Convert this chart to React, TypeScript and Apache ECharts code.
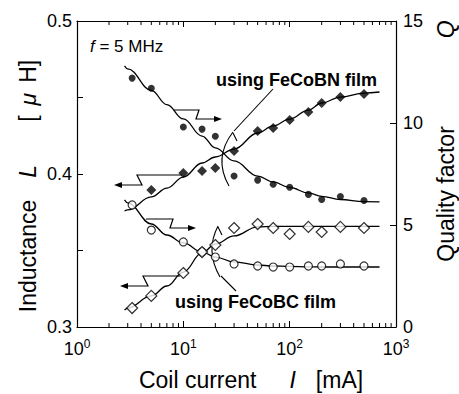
import React, { useEffect, useRef } from "react";
import * as echarts from "echarts";

// ---- data ----
const BN_Q_X = [3.3, 5, 10, 15, 20, 30, 50, 70, 100, 150, 200, 300, 500];
const BN_Q = [12.2, 11.7, 9.8, 9.7, 9.35, 7.4, 7.2, 7.0, 6.85, 6.5, 6.25, 6.4, 6.2];
const BN_L_X = [5, 10, 15, 20, 30, 50, 70, 100, 150, 200, 300, 500];
const BN_L = [0.3895, 0.4007, 0.402, 0.4039, 0.415, 0.4281, 0.4301, 0.4353, 0.4405, 0.4464, 0.4503, 0.4523];
const BC_X = [3.3, 5, 10, 15, 20, 30, 50, 70, 100, 150, 200, 300, 500];
const BC_Q = [5.98, 4.75, 4.17, 3.68, 3.43, 3.09, 2.99, 2.94, 2.94, 2.99, 2.99, 3.09, 2.99];
const BC_L = [0.3124, 0.3203, 0.3353, 0.349, 0.3536, 0.3647, 0.3673, 0.3647, 0.3608, 0.3654, 0.3621, 0.3654, 0.3647];

const FIT_X = [2.8, 3, 5, 7, 10, 15, 20, 30, 50, 70, 100, 150, 200, 300, 500, 700];
const BN_Q_FIT = [12.8, 12.65, 11.6, 10.9, 10.2, 9.36, 8.78, 8.14, 7.4, 7.11, 6.84, 6.57, 6.4, 6.25, 6.15, 6.13];
const BN_L_FIT = [0.3758, 0.3765, 0.385, 0.3908, 0.398, 0.4072, 0.4111, 0.4163, 0.4268, 0.4314, 0.4359, 0.4418, 0.4464, 0.4503, 0.4529, 0.4536];
const BC_Q_FIT = [6.23, 6.08, 5.05, 4.51, 4.12, 3.68, 3.43, 3.19, 3.04, 2.99, 2.97, 2.95, 2.94, 2.94, 2.94, 2.94];
const BC_L_FIT = [0.3111, 0.3124, 0.3203, 0.3268, 0.3359, 0.3484, 0.3542, 0.3595, 0.3655, 0.3658, 0.3658, 0.3658, 0.3658, 0.3658, 0.3658, 0.3658];

const MINOR_X = [2, 3, 4, 5, 6, 7, 8, 9, 20, 30, 40, 50, 60, 70, 80, 90, 200, 300, 400, 500, 600, 700, 800, 900];

const FONT = "Liberation Sans";
const pairs = (xs: number[], ys: number[]) => xs.map((x, i) => [x, ys[i]]);

export default function App() {
  const ref = useRef<HTMLDivElement>(null);
  useEffect(() => {
    if (!ref.current) return;
    const chart = echarts.init(ref.current, undefined, { renderer: "svg" });
    const black = "#000";
    const lineStyle = { color: black, width: 1.3 };
    const T = 23;
    const fitSeries = (name: string, ys: number[], yAxisIndex: number) => ({
      name,
      type: "line",
      yAxisIndex,
      data: pairs(FIT_X, ys),
      smooth: 0.4,
      smoothMonotone: "x",
      showSymbol: false,
      symbol: "none",
      lineStyle,
      z: 2,
    });
    const arrow = (pts: number[][], dir: number) => {
      const end = pts[pts.length - 1];
      const tip = [end[0] + dir * 6, end[1]];
      return [
        { type: "polyline", shape: { points: pts }, style: { stroke: black, lineWidth: 1.2, fill: "none" } },
        {
          type: "polygon",
          shape: { points: [tip, [end[0] - dir * 2, end[1] - 3], [end[0] - dir * 2, end[1] + 3]] },
          style: { fill: black },
        },
      ];
    };
    const base = { fontSize: T, fontFamily: FONT, fill: black };
    const ital = { fontSize: T, fontFamily: FONT, fill: black, fontStyle: "italic" };
    const option: any = {
      animation: false,
      textStyle: { fontFamily: FONT, color: black },
      grid: { left: 77, right: 63, top: 21, bottom: 67 },
      xAxis: [
        {
          type: "log",
          logBase: 10,
          min: 1,
          max: 1000,
          position: "bottom",
          axisLine: { lineStyle: { color: black, width: 1.2 } },
          axisTick: { inside: true, length: 6, lineStyle: { color: black } },
          splitLine: { show: false },
          axisLabel: {
            margin: 11,
            formatter: (v: number) => `{b|10}{s|${Math.round(Math.log10(v))}}`,
            rich: {
              b: { fontSize: 18, fontFamily: FONT, color: black, lineHeight: 22 },
              s: { fontSize: 12, fontFamily: FONT, color: black, lineHeight: 12, verticalAlign: "top" },
            },
          },
        },
        {
          type: "log",
          logBase: 10,
          min: 1,
          max: 1000,
          position: "top",
          axisLine: { lineStyle: { color: black, width: 1.2 } },
          axisTick: { inside: true, length: 6, lineStyle: { color: black } },
          axisLabel: { show: false },
          splitLine: { show: false },
        },
      ],
      yAxis: [
        {
          type: "value",
          min: 0.3,
          max: 0.5,
          interval: 0.05,
          position: "left",
          axisLine: { show: true, lineStyle: { color: black, width: 1.2 } },
          axisTick: { show: true, inside: true, length: 6, lineStyle: { color: black } },
          splitLine: { show: false },
          axisLabel: {
            margin: 5,
            fontSize: 18,
            color: black,
            fontFamily: FONT,
            formatter: (v: number) => (Math.abs(Math.round(v * 10) - v * 10) < 1e-6 ? v.toFixed(1) : ""),
          },
        },
        {
          type: "value",
          min: 0,
          max: 15,
          interval: 5,
          position: "right",
          axisLine: { show: true, lineStyle: { color: black, width: 1.2 } },
          axisTick: { show: true, inside: true, length: 6, lineStyle: { color: black } },
          splitLine: { show: false },
          axisLabel: { margin: 7, fontSize: 18, color: black, fontFamily: FONT },
        },
      ],
      series: [
        fitSeries("FeCoBN Q fit", BN_Q_FIT, 1),
        fitSeries("FeCoBN L fit", BN_L_FIT, 0),
        fitSeries("FeCoBC Q fit", BC_Q_FIT, 1),
        fitSeries("FeCoBC L fit", BC_L_FIT, 0),
        {
          name: "FeCoBN Q",
          type: "scatter",
          yAxisIndex: 1,
          data: pairs(BN_Q_X, BN_Q),
          symbol: "circle",
          symbolSize: 7,
          itemStyle: { color: black },
          z: 5,
        },
        {
          name: "FeCoBN L",
          type: "scatter",
          yAxisIndex: 0,
          data: pairs(BN_L_X, BN_L),
          symbol: "diamond",
          symbolSize: 10,
          itemStyle: { color: black },
          z: 5,
        },
        {
          name: "FeCoBC Q",
          type: "scatter",
          yAxisIndex: 1,
          data: pairs(BC_X, BC_Q),
          symbol: "circle",
          symbolSize: 8,
          itemStyle: { color: "#fff", borderColor: black, borderWidth: 1.2 },
          z: 5,
        },
        {
          name: "FeCoBC L",
          type: "scatter",
          yAxisIndex: 0,
          data: pairs(BC_X, BC_L),
          symbol: "diamond",
          symbolSize: 11,
          itemStyle: { color: "#fff", borderColor: black, borderWidth: 1.2 },
          z: 6,
        },
        {
          name: "minor ticks",
          type: "custom",
          xAxisIndex: 0,
          yAxisIndex: 0,
          data: MINOR_X.map((v) => [v]),
          encode: { x: 0 },
          silent: true,
          clip: false,
          renderItem: (params: any, api: any) => {
            const x = api.value(0);
            const pb = api.coord([x, 0.3]);
            const pt = api.coord([x, 0.5]);
            return {
              type: "group",
              children: [
                { type: "line", shape: { x1: pb[0], y1: pb[1], x2: pb[0], y2: pb[1] - 4 }, style: { stroke: black, lineWidth: 1 } },
                { type: "line", shape: { x1: pt[0], y1: pt[1], x2: pt[0], y2: pt[1] + 4 }, style: { stroke: black, lineWidth: 1 } },
              ],
            };
          },
        },
      ],
      graphic: [
        // axis titles
        {
          type: "text",
          x: 251,
          y: 380,
          style: {
            text: "{a|Coil current}{i|I}{a|[mA]}",
            align: "center",
            verticalAlign: "middle",
            rich: { a: base, i: { ...ital, padding: [0, 20, 0, 33] } },
          },
        },
        {
          type: "text",
          x: 28,
          y: 186,
          rotation: Math.PI / 2,
          style: {
            text: "{a|Inductance}{i|L}{a|[}{m|μ}{a|H]}",
            align: "center",
            verticalAlign: "middle",
            rich: {
              a: base,
              i: { ...ital, padding: [0, 43, 0, 22] },
              m: { ...ital, padding: [0, 10, 0, 10] },
            },
          },
        },
        {
          type: "text",
          x: 446,
          y: 141,
          rotation: Math.PI / 2,
          style: {
            text: "{a|Quality factor}{q|Q}",
            align: "center",
            verticalAlign: "middle",
            rich: { a: base, q: { ...ital, padding: [0, 0, 0, 88] } },
          },
        },
        {
          type: "text",
          x: 90,
          y: 46,
          style: {
            text: "{i|f} = 5 MHz",
            fontSize: 17,
            fontFamily: FONT,
            fill: black,
            verticalAlign: "middle",
            rich: { i: { fontStyle: "italic", fontSize: 17, fontFamily: FONT, fill: black } },
          },
        },
        {
          type: "text",
          x: 216,
          y: 80,
          style: { text: "using FeCoBN film", fontSize: 18, fontWeight: "bold", fontFamily: FONT, fill: black, verticalAlign: "middle" },
        },
        {
          type: "text",
          x: 175,
          y: 302,
          style: { text: "using FeCoBC film", fontSize: 18, fontWeight: "bold", fontFamily: FONT, fill: black, verticalAlign: "middle" },
        },
        ...arrow([[174, 110], [199, 110], [196, 119], [216, 119]], 1),
        ...arrow([[182, 175], [137, 175], [142, 185], [120, 185]], -1),
        ...arrow([[146, 219], [173, 219], [170, 228], [190, 228]], 1),
        ...arrow([[180, 276], [143, 276], [148, 286], [126, 286]], -1),
        { type: "polyline", shape: { points: [[273, 89], [234, 131]] }, style: { stroke: black, lineWidth: 1.1, fill: "none" } },
        { type: "bezierCurve", shape: { x1: 233, y1: 132, cpx1: 213, cpy1: 158, x2: 229, y2: 186 }, style: { stroke: black, lineWidth: 1.1, fill: "none" } },
        { type: "line", shape: { x1: 233, y1: 133, x2: 237, y2: 141 }, style: { stroke: black, lineWidth: 1.1 } },
        { type: "bezierCurve", shape: { x1: 218, y1: 226, cpx1: 205, cpy1: 251, x2: 220, y2: 277 }, style: { stroke: black, lineWidth: 1.1, fill: "none" } },
        { type: "line", shape: { x1: 218, y1: 227, x2: 222, y2: 235 }, style: { stroke: black, lineWidth: 1.1 } },
        { type: "polyline", shape: { points: [[221, 276], [236, 291]] }, style: { stroke: black, lineWidth: 1.1, fill: "none" } },
      ],
    };
    chart.setOption(option);
    return () => chart.dispose();
  }, []);
  return (
    <div
      ref={ref}
      style={{ position: "absolute", left: 0, top: 0, width: 459, height: 394, background: "#fff" }}
    />
  );
}
